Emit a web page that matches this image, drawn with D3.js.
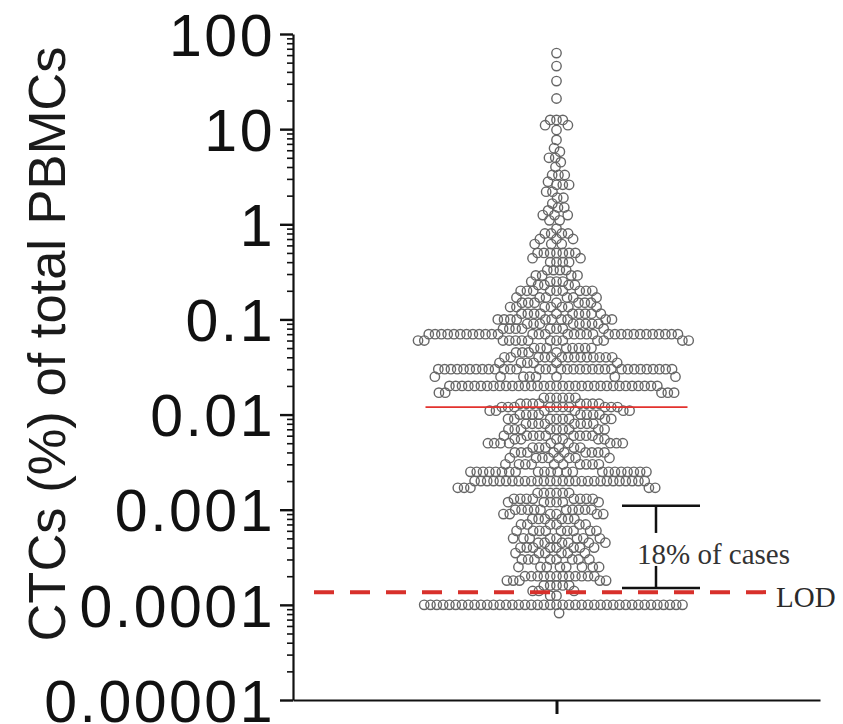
<!DOCTYPE html>
<html>
<head>
<meta charset="utf-8">
<script src="https://cdn.jsdelivr.net/npm/d3@7"></script>
<style>
  body { margin: 0; background: #fff; }
  svg { display: block; }
</style>
</head>
<body>
<svg id="chart" width="843" height="724"></svg>
<script>
// ---- data ----
const category = ["CTC"];
const yTickValues = [100, 10, 1, 0.1, 0.01, 0.001, 0.0001, 0.00001];
const yTickLabels = ["100", "10", "1", "0.1", "0.01", "0.001", "0.0001", "0.00001"];
const yLabel = "CTCs (%) of total PBMCs";

// measured CTC percentages: distinct values and how many cases share each one
const levelValues = [
  63, 46, 32, 21, 12.5, 11, 9.8, 7.7, 6.3, 5.8, 5.0, 4.5, 4.0, 3.3, 2.8, 2.6, 2.2, 1.9, 1.65, 1.5,
  1.4, 1.25, 1.1, 0.9, 0.8, 0.7, 0.62, 0.5, 0.44, 0.4, 0.33, 0.29, 0.25, 0.23, 0.2, 0.17, 0.15, 0.135, 0.115, 0.1,
  0.09, 0.08, 0.07, 0.06, 0.05, 0.045, 0.04, 0.035, 0.03, 0.025, 0.02, 0.017, 0.015, 0.013, 0.012, 0.011, 0.01, 0.009, 0.008, 0.007,
  0.006, 0.0055, 0.005, 0.0045, 0.004, 0.0035, 0.003, 0.0025, 0.002, 0.0017, 0.0015, 0.0013, 0.0012, 0.001, 0.0009, 0.0008, 0.0007, 0.0006, 0.0005, 0.00045,
  0.0004, 0.00035, 0.0003, 0.00025, 0.0002, 0.00018, 0.00016, 0.00014, 0.000125, 0.0001, 0.000082
];
const levelCounts = [
  1, 1, 1, 1, 3, 2, 1, 1, 1, 1, 2, 1, 1, 3, 1, 3, 2, 2, 1, 2,
  1, 3, 2, 1, 4, 3, 3, 7, 2, 4, 4, 4, 4, 4, 9, 6, 7, 7, 10, 10,
  8, 8, 32, 14, 8, 4, 14, 6, 34, 8, 34, 5, 6, 8, 10, 6, 8, 8, 8, 9,
  9, 6, 9, 6, 9, 8, 10, 22, 28, 5, 6, 8, 6, 10, 6, 6, 6, 9, 8, 6,
  8, 6, 8, 8, 12, 5, 5, 3, 2, 42, 1
];

const medianValue = 0.012;
const lodValue = 0.000136;
const lodLabel = "LOD";
const bracketTop = 0.0011;
const bracketBottom = 0.00015;
const bracketLabel = "18% of cases";

// ---- layout ----
const svg = d3.select("#chart");
const plot = { left: 293, right: 820, top: 34, bottom: 700 };

const y = d3.scaleLog().domain([1e-5, 100]).range([plot.bottom, plot.top]);
const x = d3.scalePoint().domain(category).range([plot.left, plot.right]).padding(0.5);
const cx = x(category[0]);

// ---- axes ----
const minorTicks = [];
for (let e = -5; e < 2; e++) for (let m = 2; m <= 9; m++) minorTicks.push(m * Math.pow(10, e));

const gMinor = svg.append("g").attr("transform", `translate(${plot.left},0)`)
  .call(d3.axisLeft(y).tickValues(minorTicks).tickFormat("").tickSize(6).tickSizeOuter(0));
gMinor.select(".domain").remove();
gMinor.selectAll(".tick line").attr("stroke", "#111").attr("stroke-width", 1.6);

const gy = svg.append("g").attr("transform", `translate(${plot.left},0)`)
  .call(d3.axisLeft(y).tickValues(yTickValues)
    .tickFormat((d, i) => yTickLabels[i]).tickSize(13).tickPadding(5).tickSizeOuter(0));
gy.select(".domain").attr("stroke", "#111").attr("stroke-width", 2.2);
gy.selectAll(".tick line").attr("stroke", "#111").attr("stroke-width", 2.4);
gy.selectAll(".tick text")
  .attr("font-family", "'Liberation Sans', Arial, Helvetica, sans-serif")
  .attr("font-size", 59)
  .attr("letter-spacing", 2.5)
  .attr("fill", "#111")
  .attr("dy", "0.36em");

const gx = svg.append("g").attr("transform", `translate(0,${plot.bottom})`)
  .call(d3.axisBottom(x).tickFormat("").tickSize(14).tickSizeOuter(0));
gx.select(".domain").attr("stroke", "#111").attr("stroke-width", 2.2);
gx.selectAll(".tick line").attr("stroke", "#111").attr("stroke-width", 3);

svg.append("text")
  .attr("transform", `translate(65,344) rotate(-90)`)
  .attr("text-anchor", "middle")
  .attr("font-family", "'Liberation Sans', Arial, Helvetica, sans-serif")
  .attr("font-size", 52.5)
  .attr("fill", "#1a1a1a")
  .text(yLabel);

// ---- beeswarm of cases ----
const points = [];
levelValues.forEach((v, i) => { for (let k = 0; k < levelCounts[i]; k++) points.push({ v }); });
points.sort((a, b) => b.v - a.v);

const sx = 6.3, sy = 9;           // half-axes of the keep-out ellipse between symbol centres
const placed = [];
let side = 1;
points.forEach(p => {
  p.py = y(p.v);
  const blocks = [];
  placed.forEach(q => {
    const dy = Math.abs(q.py - p.py);
    if (dy < sy) {
      const w = sx * Math.sqrt(1 - (dy / sy) ** 2);
      blocks.push([q.dx - w, q.dx + w]);
    }
  });
  const cands = [0];
  blocks.forEach(([a, b]) => cands.push(a, b));
  cands.sort((a, b) => (Math.abs(a) - Math.abs(b)) || (side * (b - a)));
  let chosen = 0;
  for (const c of cands) {
    if (!blocks.some(([a, b]) => c > a + 1e-6 && c < b - 1e-6)) { chosen = c; break; }
  }
  p.dx = chosen;
  side = -side;
  placed.push(p);
});

svg.append("g").selectAll("circle")
  .data(points)
  .join("circle")
  .attr("cx", d => cx + d.dx)
  .attr("cy", d => d.py)
  .attr("r", 4.7)
  .attr("fill", "none")
  .attr("stroke", "#666")
  .attr("stroke-width", 1.4);

// ---- median ----
const medianHalf = 131;
svg.append("line")
  .attr("x1", cx - medianHalf).attr("x2", cx + medianHalf)
  .attr("y1", y(medianValue)).attr("y2", y(medianValue))
  .attr("stroke", "#e3322e").attr("stroke-width", 1.8);

// ---- limit of detection ----
svg.append("line")
  .attr("x1", 314).attr("x2", 766)
  .attr("y1", y(lodValue)).attr("y2", y(lodValue))
  .attr("stroke", "#d8302b").attr("stroke-width", 4)
  .attr("stroke-dasharray", "20,16");
svg.append("text")
  .attr("x", 776).attr("y", y(lodValue) + 5)
  .attr("dy", "0.35em")
  .attr("font-family", "'Liberation Serif', 'Times New Roman', serif")
  .attr("font-size", 29)
  .attr("fill", "#2a2a2a")
  .text(lodLabel);

// ---- bracket: cases between LOD and 0.001 ----
const bx = 656, bl = 622, br = 700;
const yTop = y(bracketTop), yBot = y(bracketBottom);
const g = svg.append("g").attr("stroke", "#111").attr("stroke-width", 2.5);
g.append("line").attr("x1", bl).attr("x2", br).attr("y1", yTop).attr("y2", yTop);
g.append("line").attr("x1", bl).attr("x2", br).attr("y1", yBot).attr("y2", yBot);
const yMid = (yTop + yBot) / 2 + 7;
g.append("line").attr("x1", bx).attr("x2", bx).attr("y1", yTop).attr("y2", yMid - 21);
g.append("line").attr("x1", bx).attr("x2", bx).attr("y1", yMid + 12).attr("y2", yBot);
svg.append("text")
  .attr("x", 637).attr("y", yMid)
  .attr("dy", "0.33em")
  .attr("font-family", "'Liberation Serif', 'Times New Roman', serif")
  .attr("font-size", 29)
  .attr("fill", "#333")
  .text(bracketLabel);
</script>
</body>
</html>
